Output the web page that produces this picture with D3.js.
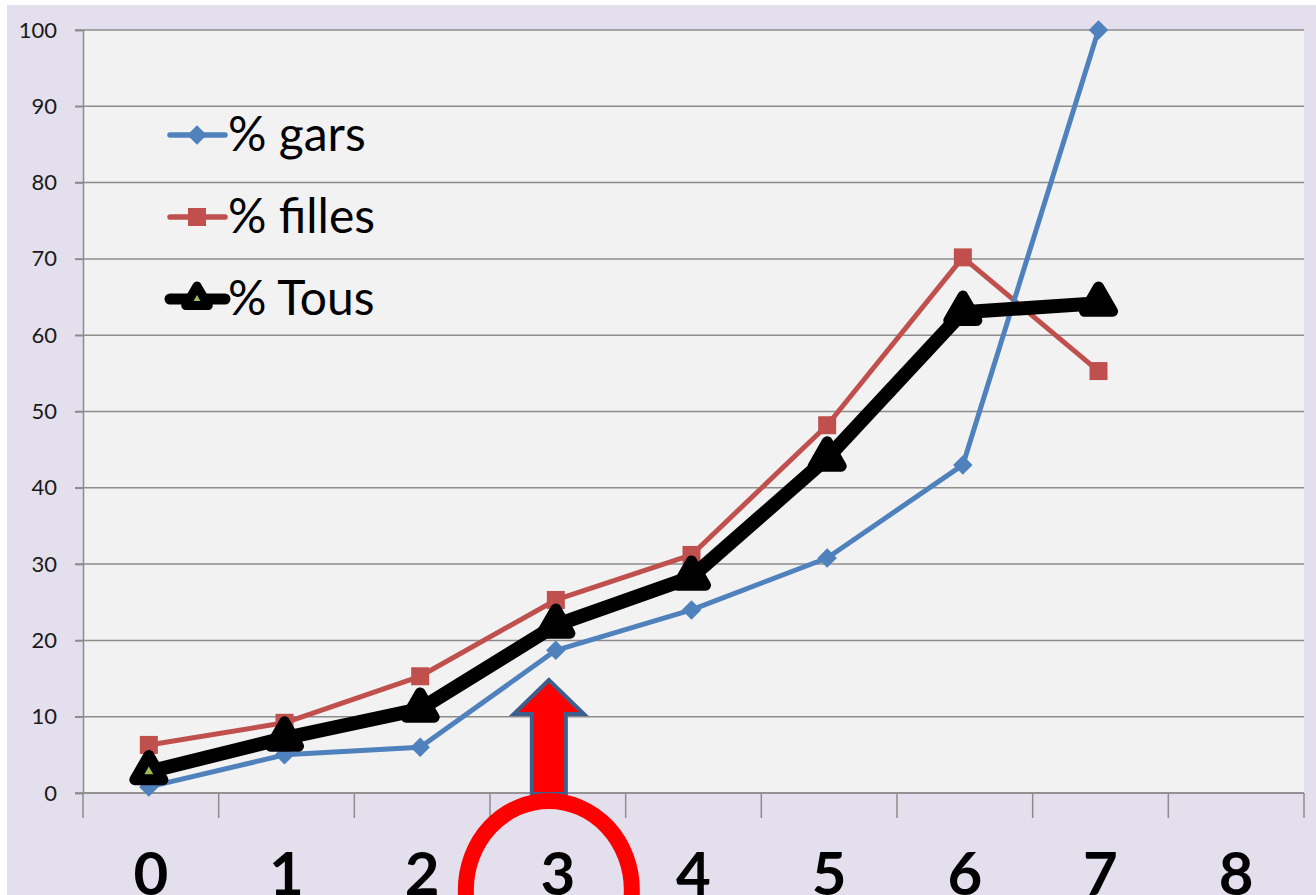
<!DOCTYPE html>
<html>
<head>
<meta charset="utf-8">
<script src="https://cdn.jsdelivr.net/npm/d3@7"></script>
<style>
  html, body { margin: 0; padding: 0; background: #fff; }
  svg { display: block; }
</style>
</head>
<body>
<script>
const categories = ['0', '1', '2', '3', '4', '5', '6', '7', '8'];
const garsValues = [0.8, 5.0, 6.0, 18.7, 24.0, 30.8, 43.0, 100];
const fillesValues = [6.3, 9.2, 15.3, 25.3, 31.2, 48.2, 70.2, 55.3];
const tousValues = [2.8, 7.2, 11.0, 22.0, 28.3, 43.9, 63.0, 64.2];
const yTicks = [0, 10, 20, 30, 40, 50, 60, 70, 80, 90, 100];
const seriesNames = ['% gars', '% filles', '% Tous'];

const width = 1316;
const height = 895;
const plot = { left: 83, right: 1304, top: 30, bottom: 793 };

const svg = d3.select('body').append('svg')
  .attr('width', width)
  .attr('height', height);

// outer frame
svg.append('rect')
  .attr('x', 7).attr('y', 5)
  .attr('width', width).attr('height', height)
  .attr('fill', '#e4dfec');

svg.append('rect')
  .attr('x', plot.left).attr('y', plot.top)
  .attr('width', plot.right - plot.left)
  .attr('height', plot.bottom - plot.top)
  .attr('fill', '#f2f2f2');

const x = d3.scaleBand()
  .domain(categories)
  .range([plot.left, plot.right]);

const y = d3.scaleLinear()
  .domain([0, 100])
  .range([plot.bottom, plot.top]);

const cx = (i) => x(categories[i]) + x.bandwidth() / 2 - 2;

// gridlines
svg.append('g')
  .selectAll('line')
  .data(yTicks)
  .join('line')
  .attr('x1', plot.left - 8)
  .attr('x2', plot.right)
  .attr('y1', d => y(d))
  .attr('y2', d => y(d))
  .attr('stroke', '#8c8c8c')
  .attr('stroke-width', 1.5);

// y axis
const yAxis = svg.append('g')
  .attr('transform', `translate(${plot.left},0)`)
  .call(d3.axisLeft(y).tickValues(yTicks).tickSize(8).tickPadding(18));
yAxis.select('.domain').attr('stroke', '#8c8c8c').attr('stroke-width', 1.5);
yAxis.selectAll('.tick line').attr('stroke', '#8c8c8c').attr('stroke-width', 1.5);
yAxis.selectAll('text')
  .attr('font-family', 'Lato, "Open Sans", sans-serif')
  .attr('font-size', 22)
  .attr('fill', '#1a1a1a');

// x axis: tick marks between categories
const xAxis = svg.append('g')
  .attr('transform', `translate(0,${plot.bottom})`);
xAxis.append('line')
  .attr('x1', plot.left).attr('x2', plot.right)
  .attr('stroke', '#8c8c8c').attr('stroke-width', 1.5);
xAxis.selectAll('line.sep')
  .data(categories.concat(['end']))
  .join('line')
  .attr('class', 'sep')
  .attr('x1', (d, i) => i < categories.length ? x(d) : plot.right)
  .attr('x2', (d, i) => i < categories.length ? x(d) : plot.right)
  .attr('y1', 0).attr('y2', 25)
  .attr('stroke', '#8c8c8c').attr('stroke-width', 1.5);
xAxis.selectAll('text')
  .data(categories)
  .join('text')
  .attr('x', d => x(d) + x.bandwidth() / 2)
  .attr('y', 102)
  .attr('text-anchor', 'middle')
  .attr('font-family', 'Lato, "Open Sans", sans-serif')
  .attr('font-weight', 700)
  .attr('font-size', 60)
  .attr('fill', '#000')
  .text(d => d);

const line = d3.line()
  .x((d, i) => cx(i))
  .y(d => y(d));

// % filles
svg.append('path')
  .datum(fillesValues)
  .attr('d', line)
  .attr('fill', 'none')
  .attr('stroke', '#c0504d')
  .attr('stroke-width', 5)
  .attr('stroke-linejoin', 'round');
svg.append('g')
  .selectAll('rect')
  .data(fillesValues)
  .join('rect')
  .attr('x', (d, i) => cx(i) - 9)
  .attr('y', d => y(d) - 9)
  .attr('width', 18).attr('height', 18)
  .attr('fill', '#c0504d');

// % gars
const diamond = d3.symbol().type(d3.symbolSquare).size(190);
svg.append('path')
  .datum(garsValues)
  .attr('d', line)
  .attr('fill', 'none')
  .attr('stroke', '#4f81bd')
  .attr('stroke-width', 5)
  .attr('stroke-linejoin', 'round');
svg.append('g')
  .selectAll('path')
  .data(garsValues)
  .join('path')
  .attr('transform', (d, i) => `translate(${cx(i)},${y(d)}) rotate(45)`)
  .attr('d', diamond)
  .attr('fill', '#4f81bd');

// % Tous
svg.append('path')
  .datum(tousValues)
  .attr('d', line)
  .attr('fill', 'none')
  .attr('stroke', '#000')
  .attr('stroke-width', 14)
  .attr('stroke-linejoin', 'round');
const tri = d3.symbol().type(d3.symbolTriangle).size(340);
svg.append('g')
  .selectAll('path')
  .data(tousValues)
  .join('path')
  .attr('transform', (d, i) => `translate(${cx(i)},${y(d)})`)
  .attr('d', tri)
  .attr('fill', (d, i) => i === 0 ? '#9bbb59' : '#000')
  .attr('stroke', '#000')
  .attr('stroke-width', 11)
  .attr('stroke-linejoin', 'round');

// legend
const legend = svg.append('g').attr('transform', 'translate(170,0)');
const legendY = [135, 217, 299];
const legendColors = ['#4f81bd', '#c0504d', '#000'];
const legendWidths = [5.5, 5.5, 11];
seriesNames.forEach((name, i) => {
  const g = legend.append('g').attr('transform', `translate(0,${legendY[i]})`);
  g.append('line')
    .attr('x1', 0).attr('x2', 55)
    .attr('stroke', legendColors[i])
    .attr('stroke-width', legendWidths[i])
    .attr('stroke-linecap', 'round');
  if (i === 0) {
    g.append('path')
      .attr('transform', 'translate(27,0) rotate(45)')
      .attr('d', diamond)
      .attr('fill', legendColors[i]);
  } else if (i === 1) {
    g.append('rect')
      .attr('x', 18).attr('y', -9)
      .attr('width', 18).attr('height', 18)
      .attr('fill', legendColors[i]);
  } else {
    g.append('path')
      .attr('transform', 'translate(27,0)')
      .attr('d', d3.symbol().type(d3.symbolTriangle).size(220))
      .attr('fill', '#9bbb59')
      .attr('stroke', '#000')
      .attr('stroke-width', 9)
      .attr('stroke-linejoin', 'round');
  }
  g.append('text')
    .attr('x', 58)
    .attr('y', 16)
    .attr('font-family', 'Lato, "Open Sans", sans-serif')
    .attr('font-size', 48)
    .attr('fill', '#000')
    .text(name);
});

// annotation: arrow pointing to category 3
const ax = cx(3) - 7;
const arrow = [
  [ax, plot.bottom - 113],
  [ax + 35, plot.bottom - 79],
  [ax + 17, plot.bottom - 79],
  [ax + 17, plot.bottom + 1],
  [ax - 17, plot.bottom + 1],
  [ax - 17, plot.bottom - 79],
  [ax - 35, plot.bottom - 79]
];
svg.append('path')
  .attr('d', d3.line()(arrow) + 'Z')
  .attr('fill', '#ff0000')
  .attr('stroke', '#3d5f8e')
  .attr('stroke-width', 4)
  .attr('stroke-linejoin', 'miter');

svg.append('ellipse')
  .attr('cx', ax)
  .attr('cy', 890)
  .attr('rx', 83)
  .attr('ry', 89)
  .attr('fill', 'none')
  .attr('stroke', '#ff0000')
  .attr('stroke-width', 16);
</script>
</body>
</html>
